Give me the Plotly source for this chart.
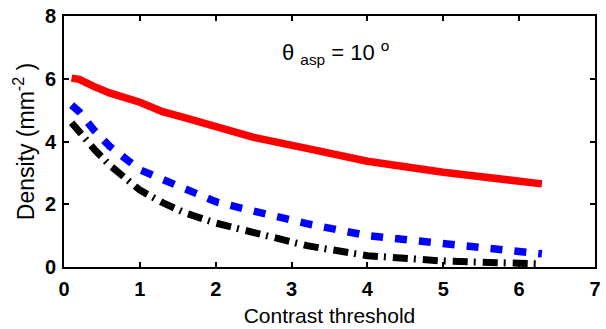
import plotly.graph_objects as go

x_vals = [0.1, 0.2, 0.4, 0.6, 1.0, 1.3, 1.6, 2.0, 2.5, 3.2, 4.0, 5.0, 6.3]
red_vals = [6.02, 5.98, 5.75, 5.55, 5.25, 4.95, 4.75, 4.45, 4.13, 3.78, 3.37, 3.02, 2.65]
blue_vals = [5.16, 4.95, 4.35, 3.85, 3.1, 2.8, 2.5, 2.08, 1.78, 1.38, 1.0, 0.74, 0.42]
black_x = [0.1, 0.2, 0.4, 0.6, 1.0, 1.3, 1.6, 2.0, 2.5, 3.2, 4.0, 5.0, 6.25]
black_vals = [4.6, 4.3, 3.75, 3.25, 2.45, 2.05, 1.72, 1.4, 1.08, 0.68, 0.36, 0.19, 0.1]

x_ticks = [0, 1, 2, 3, 4, 5, 6, 7]
y_ticks = [0, 2, 4, 6, 8]

fig = go.Figure()
fig.add_trace(go.Scatter(x=x_vals, y=red_vals, mode="lines",
                         line=dict(color="#ff0000", width=7.5)))
fig.add_trace(go.Scatter(x=x_vals, y=blue_vals, mode="lines",
                         line=dict(color="#0000ff", width=7.5, dash="12px,12px")))
fig.add_trace(go.Scatter(x=black_x, y=black_vals, mode="lines",
                         line=dict(color="#000000", width=7, dash="15px,6px,2px,7px")))

font_main = "Arial, Helvetica, sans-serif"
axis_common = dict(
    showgrid=False, zeroline=False, showline=True, linecolor="black", linewidth=2,
    mirror="ticks", ticks="inside", ticklen=5, tickwidth=1.5, tickcolor="black",
    tickfont=dict(family="Arial, sans-serif", size=20, color="black", weight="bold"),
)

fig.update_layout(
    width=606, height=329,
    margin=dict(l=64, r=5, t=16, b=62),
    plot_bgcolor="white", paper_bgcolor="white",
    showlegend=False,
    xaxis=dict(range=[0, 7], tickvals=x_ticks, ticktext=[str(v) for v in x_ticks],
               ticklabelstandoff=3,
               title=dict(text="Contrast threshold", standoff=9,
                          font=dict(family=font_main, size=21, color="black")),
               **axis_common),
    yaxis=dict(range=[0, 8], tickvals=y_ticks, ticktext=[str(v) for v in y_ticks],
               ticklabelstandoff=2,
               title=dict(text="Density (mm<sup>-2</sup> )", standoff=4,
                          font=dict(family=font_main, size=23, color="black")),
               **axis_common),
    annotations=[dict(
        x=2.85, y=6.85, xref="x", yref="y", xanchor="left", yanchor="middle",
        text="θ <sub>asp</sub> = 10 <sup>o</sup>", showarrow=False,
        font=dict(family=font_main, size=22, color="black"),
    )],
)

fig.write_html("out.html")
